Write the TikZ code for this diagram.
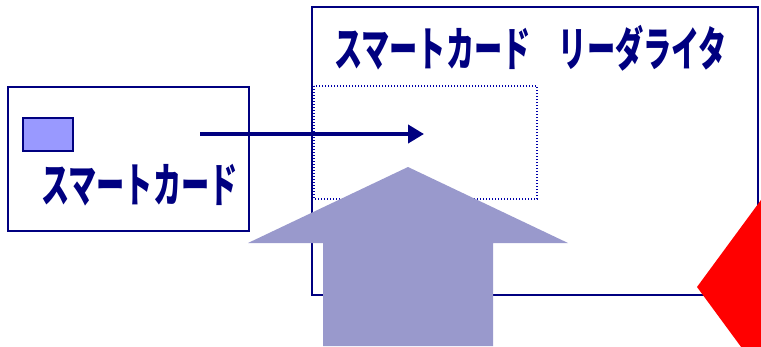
\documentclass[tikz,border=0pt]{standalone}
\usepackage{fontspec}
\newfontfamily\cjk[FakeStretch=0.6]{Noto Sans CJK JP}
\usetikzlibrary{arrows.meta}
\definecolor{navy}{RGB}{0,0,128}
\definecolor{chipfill}{RGB}{153,153,255}
\definecolor{bigarrow}{RGB}{153,153,204}
\definecolor{dotblue}{RGB}{0,0,170}
\tikzset{
  boxline/.style={draw=navy, line width=2pt},
  label/.style={anchor=west, inner sep=0pt, text=navy, font=\fontsize{47}{47}\cjk\bfseries},
  flow/.style={draw=navy, line width=4.5pt, -{Triangle[length=16pt,width=18pt]}},
}
\begin{document}
\begin{tikzpicture}[x=1pt,y=-1pt]
\useasboundingbox (0,0) rectangle (761,346);
\clip (0,0) rectangle (761,346);
% smart card
\draw[boxline] (8,87) rectangle (249,231);
\draw[draw=navy, line width=1.5pt, fill=chipfill] (23,118) rectangle (73,151);
\node[label] (cardlabel) at (41,185) {スマートカード};
% reader
\draw[boxline] (312,7) rectangle (758,295);
\node[label] (readerlabel) at (334,48) {スマートカード　リーダライタ};
\draw[draw=dotblue, line width=1.3pt, dash pattern=on 1.3pt off 1.7pt] (314,86) rectangle (537,199);
% insertion arrow
\coordinate (from) at (200,134);
\coordinate (to) at (424,134);
\draw[flow] (from) -- (to);
% big up arrow
\fill[bigarrow] (408,167) -- (568,243) -- (493,243) -- (493,346) -- (323,346) -- (323,243) -- (248,243) -- cycle;
% red diamond
\fill[red] (697,287) -- (697+200,287-272) -- (697+400,287) -- (697+200,287+272) -- cycle;
\end{tikzpicture}
\end{document}
